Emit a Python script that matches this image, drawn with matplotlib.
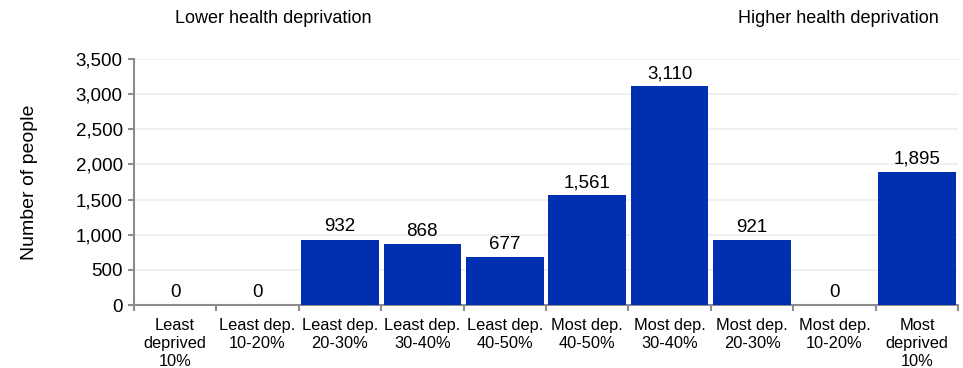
import matplotlib.pyplot as plt
import numpy as np

plt.rcParams['font.family'] = ['Liberation Sans', 'DejaVu Sans']

categorias = ["Least\ndeprived\n10%", "Least dep.\n10-20%", "Least dep.\n20-30%",
              "Least dep.\n30-40%", "Least dep.\n40-50%", "Most dep.\n40-50%",
              "Most dep.\n30-40%", "Most dep.\n20-30%", "Most dep.\n10-20%",
              "Most\ndeprived\n10%"]
valores = [0, 0, 932, 868, 677, 1561, 3110, 921, 0, 1895]

cor = "#0030B0"
cinza = "#8c8c8c"

fig = plt.figure(figsize=(9.63, 3.68), dpi=100)
ax = fig.add_axes([0.139, 0.171, 0.856, 0.669])

index = np.arange(len(categorias))
ax.bar(index, valores, width=0.94, color=cor, zorder=3)
for i, v in enumerate(valores):
    ax.text(i, v + 60, f"{v:,}", ha='center', va='bottom', fontsize=13.5)

ax.set_xlim(-0.5, len(categorias) - 0.5)
ax.set_ylim(0, 3500)
ax.set_yticks(np.arange(0, 3501, 500))
ax.set_yticklabels([f"{t:,}" for t in range(0, 3501, 500)], fontsize=13.5)
ax.grid(axis='y', color='#eeeeee', linewidth=1.2, zorder=0)

ax.set_xticks(index)
ax.set_xticklabels(categorias, fontsize=11.8, linespacing=1.25)
ax.tick_params(axis='x', length=0, pad=9)
ax.set_xticks(np.arange(-0.5, len(categorias), 1), minor=True)
ax.tick_params(axis='x', which='minor', length=4, color=cinza, width=1.5)
ax.tick_params(axis='y', length=4, color=cinza, width=1.5, pad=4)

for s in ['top', 'right']:
    ax.spines[s].set_visible(False)
for s in ['left', 'bottom']:
    ax.spines[s].set_color(cinza)
    ax.spines[s].set_linewidth(1.5)

ax.set_ylabel("Number of people", fontsize=14, labelpad=27)

fig.text(0.182, 0.95, "Lower health deprivation", fontsize=13, ha='left', va='center')
fig.text(0.975, 0.95, "Higher health deprivation", fontsize=13, ha='right', va='center')

plt.savefig("out.png", dpi=100)
